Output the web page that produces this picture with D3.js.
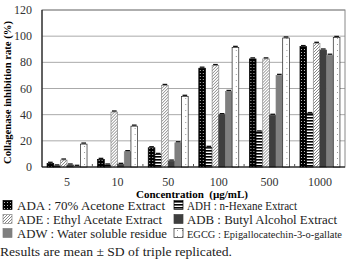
<!DOCTYPE html>
<html>
<head>
<meta charset="utf-8">
<script src="https://cdn.jsdelivr.net/npm/d3@7"></script>
<style>
  body { margin: 0; background: #fff; }
</style>
</head>
<body>
<script>
// concentrations on the x axis
const concentrations = ["5", "10", "50", "100", "500", "1000"];
// series in drawing order inside each group
const seriesKeys = ["ADA", "ADH", "ADE", "ADB", "ADW", "EGCG"];
const ADA  = [2.8, 5.8, 14.7, 75.5, 82.6, 92.0];
const ADH  = [0.8, 1.5, 9.6, 15.0, 26.8, 40.8];
const ADE  = [5.3, 42.0, 62.3, 77.5, 82.6, 94.5];
const ADB  = [1.5, 2.0, 4.5, 40.0, 39.5, 89.4];
const ADW  = [0.5, 11.7, 18.5, 57.7, 70.0, 85.4];
const EGCG = [17.5, 31.2, 54.0, 91.4, 98.6, 99.0];
// standard deviations (small caps on bar tops)
const SD   = [0.8, 0.8, 0.8, 0.8, 0.8, 0.8];
const yTicks = [0, 20, 40, 60, 80, 100, 120];
const legendLeft  = [["ADA", "ADA : 70% Acetone Extract"], ["ADE", "ADE : Ethyl Acetate Extract"], ["ADW", "ADW : Water soluble residue"]];
const legendRight = [["ADH", "ADH : n-Hexane Extract"], ["ADB", "ADB : Butyl Alcohol Extract"], ["EGCG", "EGCG : Epigallocatechin-3-o-gallate"]];
// drawn text widths of the legend entries in the original
const legendLeftW  = [148, 145, 150];
const legendRightW = [110, 150, 155];

const values = { ADA, ADH, ADE, ADB, ADW, EGCG };

const width = 350, height = 260;
const mLeft = 42, mRight = 345, mTop = 10, mBottom = 167;
const serif = "'Liberation Serif', 'Times New Roman', Tinos, 'DejaVu Serif', serif";

const svg = d3.select("body").append("svg")
    .attr("width", width)
    .attr("height", height)
    .attr("font-family", serif);

// fill patterns
const defs = svg.append("defs");

let p = defs.append("pattern").attr("id", "pADA").attr("patternUnits", "userSpaceOnUse")
    .attr("width", 3).attr("height", 3);
p.append("rect").attr("width", 3).attr("height", 3).attr("fill", "#000");
p.append("rect").attr("x", 1).attr("y", 1).attr("width", 1).attr("height", 1).attr("fill", "#bbb");

p = defs.append("pattern").attr("id", "pADH").attr("patternUnits", "userSpaceOnUse")
    .attr("width", 4).attr("height", 3);
p.append("rect").attr("width", 4).attr("height", 3).attr("fill", "#fff");
p.append("rect").attr("width", 4).attr("height", 1.6).attr("fill", "#000");

p = defs.append("pattern").attr("id", "pADE").attr("patternUnits", "userSpaceOnUse")
    .attr("width", 3).attr("height", 3);
p.append("rect").attr("width", 3).attr("height", 3).attr("fill", "#fff");
p.append("path").attr("d", "M-1,1 L1,-1 M0,3 L3,0 M2,4 L4,2")
    .attr("stroke", "#777").attr("stroke-width", 0.9);

p = defs.append("pattern").attr("id", "pEGCG").attr("patternUnits", "userSpaceOnUse")
    .attr("width", 5).attr("height", 6);
p.append("rect").attr("width", 5).attr("height", 6).attr("fill", "#fff");
p.append("rect").attr("x", 2).attr("y", 2).attr("width", 1).attr("height", 1).attr("fill", "#999");

const fills = {
    ADA: "url(#pADA)", ADH: "url(#pADH)", ADE: "url(#pADE)",
    ADB: "#3f3f3f", ADW: "#7f7f7f", EGCG: "url(#pEGCG)"
};
const strokes = { ADA: "#000", ADH: "#000", ADE: "#888", ADB: "#3f3f3f", ADW: "#7f7f7f", EGCG: "#222" };

const x = d3.scaleBand().domain(concentrations).range([mLeft, mRight]).paddingInner(0.21).paddingOuter(0.1);
const xs = d3.scaleBand().domain(seriesKeys).range([0, x.bandwidth()]);
const y = d3.scaleLinear().domain([0, 120]).range([mBottom, mTop]);

// gridlines
svg.append("g").selectAll("line").data(yTicks.filter(t => t > 0)).join("line")
    .attr("x1", mLeft).attr("x2", mRight)
    .attr("y1", d => y(d)).attr("y2", d => y(d))
    .attr("stroke", "#aaa").attr("stroke-width", 1);

// frame
svg.append("rect").attr("x", mLeft).attr("y", mTop)
    .attr("width", mRight - mLeft).attr("height", mBottom - mTop)
    .attr("fill", "none").attr("stroke", "#888").attr("stroke-width", 1);

// bars
const groups = svg.append("g").selectAll("g").data(concentrations).join("g")
    .attr("transform", d => `translate(${x(d)},0)`);

groups.each(function(c, i) {
    const g = d3.select(this);
    seriesKeys.forEach(k => {
        const v = values[k][i];
        g.append("rect")
            .attr("x", xs(k))
            .attr("y", y(v))
            .attr("width", xs.bandwidth())
            .attr("height", y(0) - y(v))
            .attr("fill", fills[k])
            .attr("stroke", strokes[k])
            .attr("stroke-width", 0.7);
        // error cap
        g.append("line")
            .attr("x1", xs(k) + 1).attr("x2", xs(k) + xs.bandwidth() - 1)
            .attr("y1", y(v + SD[i])).attr("y2", y(v + SD[i]))
            .attr("stroke", "#111").attr("stroke-width", 1.3);
    });
});

// axes lines
svg.append("line").attr("x1", mLeft).attr("x2", mRight).attr("y1", mBottom).attr("y2", mBottom)
    .attr("stroke", "#000").attr("stroke-width", 1);
svg.append("line").attr("x1", mLeft).attr("x2", mLeft).attr("y1", mTop).attr("y2", mBottom)
    .attr("stroke", "#000").attr("stroke-width", 1);

// small ticks between groups
svg.append("g").selectAll("line").data(concentrations.slice(1)).join("line")
    .attr("x1", d => x(d) - x.step() * x.paddingInner() / 2)
    .attr("x2", d => x(d) - x.step() * x.paddingInner() / 2)
    .attr("y1", mBottom).attr("y2", mBottom - 3)
    .attr("stroke", "#555");

// y tick labels
svg.append("g").selectAll("text").data(yTicks).join("text")
    .attr("x", 32).attr("y", d => y(d) + 4)
    .attr("text-anchor", "end")
    .attr("font-size", 12)
    .attr("fill", "#333")
    .text(d => d);

// x tick labels
svg.append("g").selectAll("text").data(concentrations).join("text")
    .attr("x", d => x(d) + x.bandwidth() / 2).attr("y", 186)
    .attr("text-anchor", "middle")
    .attr("font-size", 12)
    .attr("fill", "#333")
    .text(d => d);

// axis titles
svg.append("text")
    .attr("x", 192).attr("y", 198)
    .attr("text-anchor", "middle")
    .attr("font-size", 11).attr("font-weight", "bold")
    .attr("xml:space", "preserve")
    .text("Concentration  (\u00b5g/mL)");

svg.append("text")
    .attr("transform", `translate(11,${(mTop + mBottom) / 2 + 4}) rotate(-90)`)
    .attr("text-anchor", "middle")
    .attr("font-size", 10.5).attr("font-weight", "bold")
    .attr("textLength", 143).attr("lengthAdjust", "spacingAndGlyphs")
    .text("Collagenase inhibition rate (%)");

// legend
function drawLegend(items, widths, sx, tx) {
    items.forEach((d, i) => {
        const cy = 205 + i * 14;
        svg.append("rect")
            .attr("x", sx).attr("y", cy - 4.5)
            .attr("width", 9).attr("height", 9)
            .attr("fill", fills[d[0]])
            .attr("stroke", strokes[d[0]]).attr("stroke-width", 0.7);
        svg.append("text")
            .attr("x", tx).attr("y", cy + 4.5)
            .attr("font-size", d[1].length > 30 ? 10.5 : 12)
            .attr("fill", "#222")
            .attr("textLength", widths[i]).attr("lengthAdjust", "spacingAndGlyphs")
            .text(d[1]);
    });
}
drawLegend(legendLeft, legendLeftW, 3, 17);
drawLegend(legendRight, legendRightW, 174, 187);

svg.append("text")
    .attr("x", 0).attr("y", 256)
    .attr("font-size", 13)
    .attr("fill", "#222")
    .attr("textLength", 232).attr("lengthAdjust", "spacingAndGlyphs")
    .text("Results are mean \u00b1 SD of triple replicated.");
</script>
</body>
</html>
